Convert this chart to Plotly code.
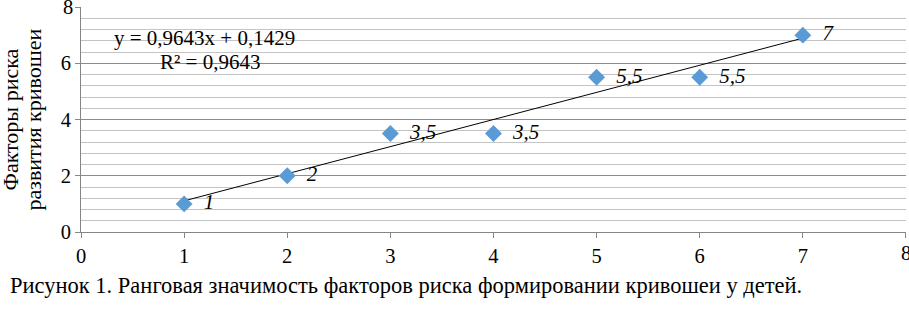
import plotly.graph_objects as go

x_vals = [1, 2, 3, 4, 5, 6, 7]
y_vals = [1, 2, 3.5, 3.5, 5.5, 5.5, 7]
point_labels = ["1", "2", "3,5", "3,5", "5,5", "5,5", "7"]
slope = 0.9643
intercept = 0.1429
eq_text = "y = 0,9643x + 0,1429"
r2_text = "R² = 0,9643"
y_title_lines = ["Факторы риска", "развития кривошеи"]
caption = "Рисунок 1. Ранговая значимость факторов риска формировании кривошеи у детей."
x_ticks = [0, 1, 2, 3, 4, 5, 6, 7, 8]
y_ticks = [0, 2, 4, 6, 8]
axis_max = 8

serif = "Liberation Serif"
tick_size = 20.5

trend_x = [min(x_vals), max(x_vals)]
trend_y = [slope * v + intercept for v in trend_x]

fig = go.Figure()
fig.add_trace(go.Scatter(x=trend_x, y=trend_y, mode="lines",
                         line=dict(color="black", width=1), hoverinfo="skip", showlegend=False))
fig.add_trace(go.Scatter(x=x_vals, y=y_vals, mode="markers+text",
                         marker=dict(symbol="diamond", size=13, color="#5B9BD5"),
                         text=["  " + t for t in point_labels], textposition="middle right",
                         textfont=dict(family=serif, size=21, color="black", style="italic"),
                         showlegend=False, cliponaxis=False))

fig.add_annotation(x=1.2, y=6.9, xref="x", yref="y", text=eq_text, showarrow=False,
                   xanchor="center", yanchor="middle",
                   font=dict(family=serif, size=21, color="black"))
fig.add_annotation(x=1.25, y=6.05, xref="x", yref="y", text=r2_text, showarrow=False,
                   xanchor="center", yanchor="middle",
                   font=dict(family=serif, size=21, color="black"))
fig.add_annotation(x=(8 - 81) / 825, y=-(285 - 232) / 225, xref="paper", yref="paper", text=caption,
                   showarrow=False, xanchor="left", yanchor="middle",
                   font=dict(family=serif, size=22.5, color="black"))

# y-axis title, two rotated lines
for line, px in zip(y_title_lines, [10, 33]):
    fig.add_annotation(x=(px - 81) / 825, y=0.5, xref="paper", yref="paper", text=line,
                       showarrow=False, textangle=-90, xanchor="center", yanchor="middle",
                       font=dict(family=serif, size=22, color="black"))

# end-of-range tick labels (plotly drops them when they overflow the page)
fig.add_annotation(x=axis_max, y=0, xref="x", yref="paper", text=str(x_ticks[-1]), showarrow=False,
                   xanchor="center", yanchor="middle", yshift=-21,
                   font=dict(family=serif, size=tick_size, color="black"))
fig.add_annotation(x=0, y=axis_max, xref="paper", yref="y", text=str(y_ticks[-1]), showarrow=False,
                   xanchor="right", yanchor="middle", xshift=-6,
                   font=dict(family=serif, size=tick_size, color="black"))

fig.update_layout(
    width=909, height=309,
    margin=dict(l=81, r=3, t=7, b=77),
    paper_bgcolor="white", plot_bgcolor="white",
    font=dict(family=serif, size=20, color="black"),
    xaxis=dict(range=[0, axis_max + 0.0005], tickmode="array", tickvals=x_ticks,
               ticktext=[str(v) for v in x_ticks], showgrid=False, zeroline=False,
               showline=True, linecolor="#868686", linewidth=1,
               ticks="outside", ticklen=5, tickcolor="#868686",
               tickfont=dict(family=serif, size=tick_size, color="black")),
    yaxis=dict(range=[0, axis_max + 0.0005], tickmode="array", tickvals=y_ticks,
               ticktext=[str(v) for v in y_ticks], showgrid=True, gridcolor="#8c8c8c", gridwidth=1,
               zeroline=False, showline=True, linecolor="#868686", linewidth=1,
               ticks="outside", ticklen=5, tickcolor="#868686",
               tickfont=dict(family=serif, size=tick_size, color="black"),
               minor=dict(tickmode="linear", tick0=0, dtick=0.4, showgrid=True,
                          gridcolor="#c4c4c4", gridwidth=1)),
)

fig.write_html("out.html", config={"displayModeBar": False},
               post_script="document.body.style.margin='0';document.body.style.overflow='hidden';")
